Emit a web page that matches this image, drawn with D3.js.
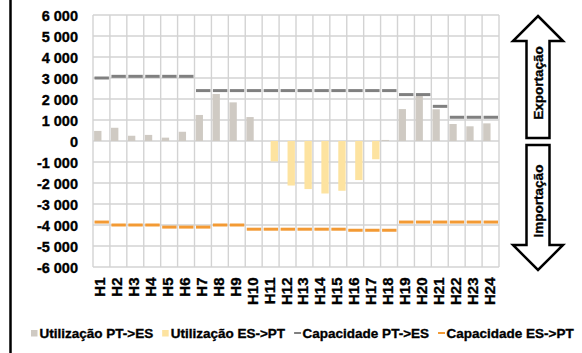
<!DOCTYPE html>
<html>
<head>
<meta charset="utf-8">
<script src="https://cdn.jsdelivr.net/npm/d3@7"></script>
<style>
  html, body { margin: 0; padding: 0; background: #fff; }
  svg { display: block; }
  text { font-family: "Liberation Sans", Arial, sans-serif; font-weight: 700; fill: #000; stroke: #000; stroke-width: 0.35px; }
</style>
</head>
<body>
<svg id="chart" width="582" height="353"></svg>
<script>
// Hourly interconnection flows and capacities (MW)
const hours = ["H1","H2","H3","H4","H5","H6","H7","H8","H9","H10","H11","H12",
               "H13","H14","H15","H16","H17","H18","H19","H20","H21","H22","H23","H24"];
const usePTES = [480, 630, 250, 290, 160, 440, 1240, 2240, 1840, 1140, 0, 0,
                 0, 0, 0, 0, 0, 50, 1520, 2140, 1510, 810, 700, 840];
const useESPT = [0, 0, 0, 0, 0, 0, 0, 0, 0, 0, -970, -2120,
                 -2290, -2500, -2370, -1860, -870, 0, 0, 0, 0, 0, 0, 0];
const capPTES = [3000, 3080, 3080, 3080, 3080, 3080, 2400, 2400, 2400, 2400, 2400, 2400,
                 2400, 2400, 2400, 2400, 2400, 2400, 2210, 2210, 1650, 1130, 1130, 1130];
const capESPT = [-3860, -4000, -4000, -4000, -4100, -4100, -4100, -4000, -4000, -4200, -4200, -4200,
                 -4200, -4200, -4200, -4250, -4250, -4250, -3860, -3860, -3860, -3860, -3860, -3860];
const yTicks = [6000, 5000, 4000, 3000, 2000, 1000, 0, -1000, -2000, -3000, -4000, -5000, -6000];
const legendItems = [
  { label: "Utilização PT->ES", type: "box",  color: "#cfcac3" },
  { label: "Utilização ES->PT", type: "box",  color: "#fde3a0" },
  { label: "Capacidade PT->ES", type: "dash", color: "#808080" },
  { label: "Capacidade ES->PT", type: "dash", color: "#f39a34" }
];

const svg = d3.select("#chart");
const plot = { left: 93, right: 499, top: 15, bottom: 267 };

const x = d3.scaleBand().domain(hours).range([plot.left, plot.right]);
const y = d3.scaleLinear().domain([-6000, 6000]).range([plot.bottom, plot.top]);

// outer frame edge on the left
svg.append("line")
  .attr("x1", 10.5).attr("x2", 10.5).attr("y1", 0).attr("y2", 353)
  .attr("stroke", "#000").attr("stroke-width", 2.5);

// gridlines
const grid = svg.append("g").attr("stroke", "#d3d3d3").attr("stroke-width", 1.4);
grid.selectAll("line.h").data(yTicks).join("line")
  .attr("x1", plot.left).attr("x2", plot.right)
  .attr("y1", d => y(d)).attr("y2", d => y(d));
grid.selectAll("line.v").data(hours.concat(["end"])).join("line")
  .attr("x1", (d, i) => plot.left + i * x.step()).attr("x2", (d, i) => plot.left + i * x.step())
  .attr("y1", plot.top).attr("y2", plot.bottom);

// y axis labels
const yAxis = d3.axisLeft(y).tickValues(yTicks).tickSize(0).tickPadding(0)
  .tickFormat(d => d3.format(",")(d).replace(/,/g, " ").replace("−", "-"));
const gy = svg.append("g").attr("transform", `translate(${plot.left - 15},0)`).call(yAxis);
gy.select(".domain").remove();
gy.selectAll("text").style("font-size", "14.5px").attr("dy", "0.36em");

// x axis labels, rotated
const xAxis = d3.axisBottom(x).tickSize(0).tickPadding(0);
const gx = svg.append("g").attr("transform", `translate(0,${plot.bottom})`).call(xAxis);
gx.select(".domain").remove();
gx.selectAll("text")
  .style("font-size", "15px")
  .attr("text-anchor", "end").attr("dy", null)
  .attr("transform", "translate(-1.5,10.5) rotate(-90)")
  .attr("x", 0).attr("y", 0).attr("dominant-baseline", "central");

// bars: two per hour, side by side
const inner = d3.scaleBand().domain(["pt", "es"]).range([0, x.bandwidth()]).paddingOuter(0.15);
const bars = svg.append("g");
bars.selectAll("rect.pt").data(usePTES).join("rect")
  .attr("x", (d, i) => x(hours[i]) + inner("pt"))
  .attr("width", inner.bandwidth())
  .attr("y", d => y(Math.max(0, d)))
  .attr("height", d => Math.abs(y(d) - y(0)))
  .attr("fill", legendItems[0].color);
bars.selectAll("rect.es").data(useESPT).join("rect")
  .attr("x", (d, i) => x(hours[i]) + inner("es"))
  .attr("width", inner.bandwidth())
  .attr("y", d => y(Math.max(0, d)))
  .attr("height", d => Math.abs(y(d) - y(0)))
  .attr("fill", legendItems[1].color);

// capacity levels as a short dash across each hour
function capacity(values, color) {
  svg.append("g").selectAll("line").data(values).join("line")
    .attr("x1", (d, i) => x(hours[i]) + 1.5)
    .attr("x2", (d, i) => x(hours[i]) + x.bandwidth() - 1)
    .attr("y1", d => y(d)).attr("y2", d => y(d))
    .attr("stroke", color).attr("stroke-width", 3);
}
capacity(capPTES, legendItems[2].color);
capacity(capESPT, legendItems[3].color);

// direction arrows
const ax = 538, shaft = 11.5, head = 25;
const upArrow = [
  [ax, 16], [ax + head, 41], [ax + shaft, 41], [ax + shaft, 138],
  [ax - shaft, 138], [ax - shaft, 41], [ax - head, 41]
];
const downArrow = [
  [ax - shaft, 145], [ax + shaft, 145], [ax + shaft, 245], [ax + head, 245],
  [ax, 270], [ax - head, 245], [ax - shaft, 245]
];
[upArrow, downArrow].forEach(p => {
  svg.append("path").attr("d", d3.line()(p) + "Z")
    .attr("fill", "#fff").attr("stroke", "#000").attr("stroke-width", 2.5)
    .attr("stroke-linejoin", "miter");
});
svg.append("text").attr("transform", `translate(${ax},83) rotate(-90)`)
  .attr("text-anchor", "middle").attr("dominant-baseline", "central")
  .style("font-size", "13.5px").text("Exportação");
svg.append("text").attr("transform", `translate(${ax},201) rotate(-90)`)
  .attr("text-anchor", "middle").attr("dominant-baseline", "central")
  .style("font-size", "13.5px").text("Importação");

// legend
const lg = svg.append("g").attr("transform", "translate(0,338)");
let cx = 31;
legendItems.forEach((it, i) => {
  const g = lg.append("g").attr("transform", `translate(${cx},0)`);
  if (it.type === "box") {
    g.append("rect").attr("x", 0).attr("y", -8).attr("width", 6.5).attr("height", 6.5).attr("fill", it.color);
  } else {
    g.append("line").attr("x1", 0).attr("x2", 7).attr("y1", -5).attr("y2", -5)
      .attr("stroke", it.color).attr("stroke-width", 2);
  }
  const t = g.append("text").attr("x", 8.5).attr("y", 0).style("font-size", "13.5px").text(it.label);
  cx += 8.5 + t.node().getComputedTextLength() + 9;
});
</script>
</body>
</html>
